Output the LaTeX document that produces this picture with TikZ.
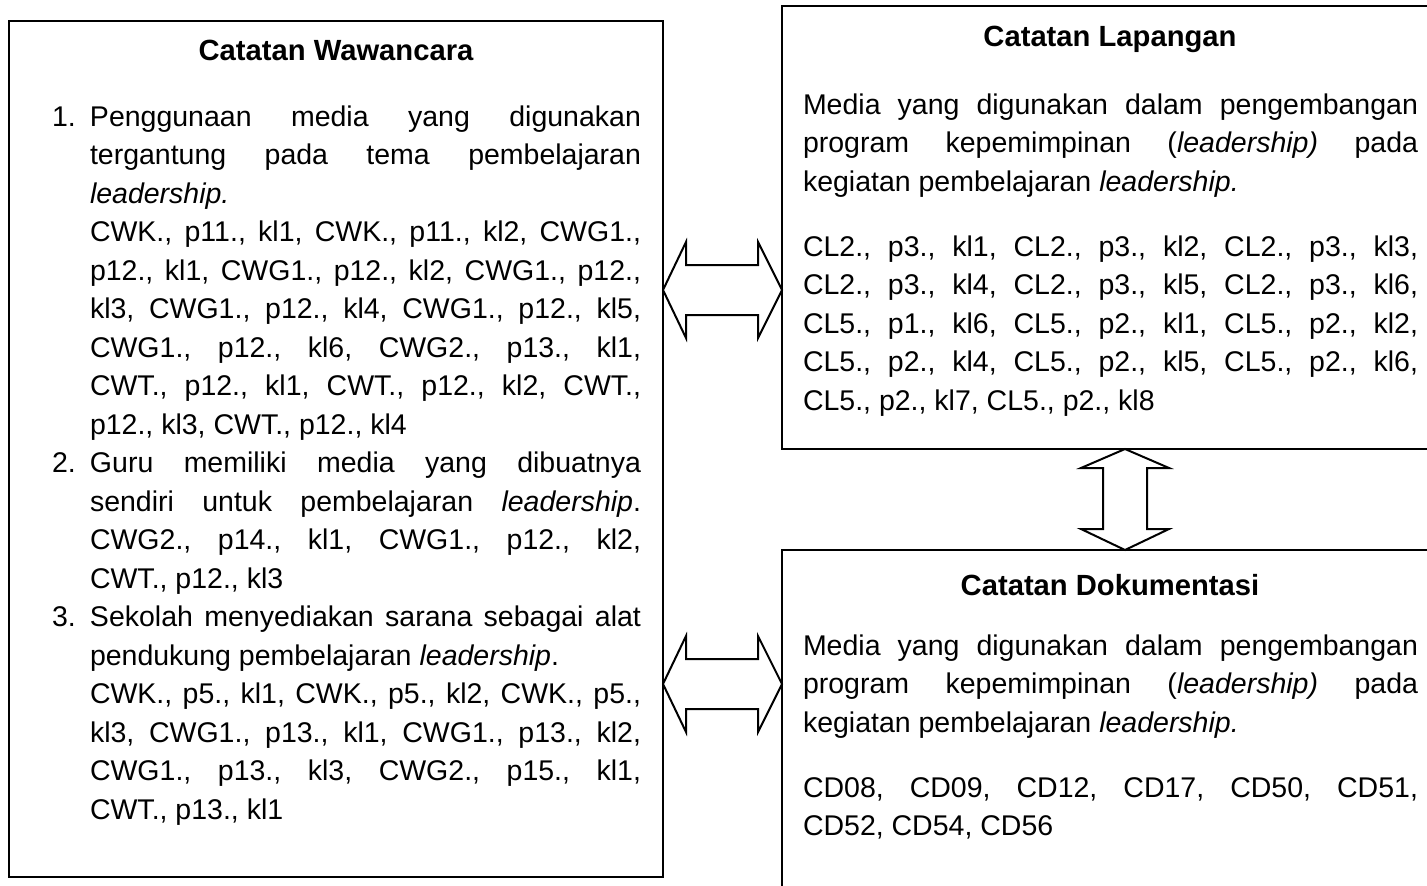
\documentclass[tikz,border=0pt]{standalone}
\usepackage{fontspec}
\setmainfont{Liberation Sans}
\usetikzlibrary{calc}

% body text setting: 28.5pt type on a 38.5pt grid, justified, no hyphenation
\newcommand\bodyfont{\fontsize{28.5pt}{38.5pt}\selectfont}
\newcommand\headfont{\fontsize{29.2pt}{38.5pt}\selectfont}
\newcommand\bodysetup{\bodyfont\parindent=0pt\parskip=0pt\sloppy\hyphenpenalty=10000\exhyphenpenalty=10000}
% numbered entry with hanging indent
\newcommand\numitem[1]{\par\noindent\hangindent=38pt\hangafter=1\makebox[38pt][l]{#1}\ignorespaces}

\tikzset{
  frame/.style={draw, line width=2.5pt, inner sep=0pt, outer sep=0pt, anchor=north west},
  barrow/.style={draw, line width=2pt, fill=white, line join=miter},
  title/.style={font=\headfont\bfseries, anchor=base, inner sep=0pt},
  body/.style={anchor=base west, inner sep=0pt, outer sep=0pt}
}

\begin{document}
\begin{tikzpicture}[x=1pt, y=-1pt]
\useasboundingbox (0,0) rectangle (1427,886);
\clip (0,0) rectangle (1427,886);
\fill[white] (0,0) rectangle (1427,886);

% the three record boxes
\node[frame, minimum width=654pt, minimum height=856pt] (wawancara) at (9,21) {};
\node[frame, minimum width=700pt, minimum height=443pt] (lapangan) at (782,6) {};
\node[frame, minimum width=700pt, minimum height=400pt] (dokumentasi) at (782,550) {};

% titles
\node[title] (t1) at (336,60) {Catatan Wawancara};
\node[title] (t2) at (1110,46) {Catatan Lapangan};
\node[title] (t3) at (1110,595) {Catatan Dokumentasi};

% interview notes
\node[body] (b1) at (52,126) {\begin{minipage}[t]{589pt}\bodysetup
\numitem{1.}Penggunaan media yang digunakan\linebreak
tergantung pada tema pembelajaran\linebreak
\textit{leadership.}\\
CWK., p11., kl1, CWK., p11., kl2, CWG1.,\linebreak
p12., kl1, CWG1., p12., kl2, CWG1., p12.,\linebreak
kl3, CWG1., p12., kl4, CWG1., p12., kl5,\linebreak
CWG1., p12., kl6, CWG2., p13., kl1,\linebreak
CWT., p12., kl1, CWT., p12., kl2, CWT.,\linebreak
p12., kl3, CWT., p12., kl4\par
\numitem{2.}Guru memiliki media yang dibuatnya\linebreak
sendiri untuk pembelajaran \textit{leadership}.\linebreak
CWG2., p14., kl1, CWG1., p12., kl2,\linebreak
CWT., p12., kl3\par
\numitem{3.}Sekolah menyediakan sarana sebagai alat\linebreak
pendukung pembelajaran \textit{leadership}.\\
CWK., p5., kl1, CWK., p5., kl2, CWK., p5.,\linebreak
kl3, CWG1., p13., kl1, CWG1., p13., kl2,\linebreak
CWG1., p13., kl3, CWG2., p15., kl1,\linebreak
CWT., p13., kl1\par
\end{minipage}};

% field notes
\node[body] (b2) at (803,114) {\begin{minipage}[t]{615pt}\bodysetup
Media yang digunakan dalam pengembangan\linebreak
program kepemimpinan (\textit{leadership)} pada\linebreak
kegiatan pembelajaran \textit{leadership.}\par\vspace{26.5pt}
CL2., p3., kl1, CL2., p3., kl2, CL2., p3., kl3,\linebreak
CL2., p3., kl4, CL2., p3., kl5, CL2., p3., kl6,\linebreak
CL5., p1., kl6, CL5., p2., kl1, CL5., p2., kl2,\linebreak
CL5., p2., kl4, CL5., p2., kl5, CL5., p2., kl6,\linebreak
CL5., p2., kl7, CL5., p2., kl8\par
\end{minipage}};

% documentation notes
\node[body] (b3) at (803,655) {\begin{minipage}[t]{615pt}\bodysetup
Media yang digunakan dalam pengembangan\linebreak
program kepemimpinan (\textit{leadership)} pada\linebreak
kegiatan pembelajaran \textit{leadership.}\par\vspace{26.5pt}
CD08, CD09, CD12, CD17, CD50, CD51,\linebreak
CD52, CD54, CD56\par
\end{minipage}};

% block double arrows between the boxes
\coordinate (h1L) at (wawancara.east |- 0,290);
\coordinate (h1R) at (lapangan.west |- 0,290);
\coordinate (h2L) at (wawancara.east |- 0,684);
\coordinate (h2R) at (dokumentasi.west |- 0,684);
\coordinate (vT) at (lapangan.south -| 1125,0);
\coordinate (vB) at (dokumentasi.north -| 1125,0);

\foreach \a/\b in {h1L/h1R, h2L/h2R}{
  \draw[barrow] (\a) -- ++(23,-48) -- ++(0,23) -- ($(\b)+(-24,-25)$) -- ++(0,-23)
    -- (\b) -- ++(-24,48) -- ++(0,-23) -- ($(\a)+(23,25)$) -- ++(0,23) -- cycle;
}
\draw[barrow] (vT) -- ++(44,19) -- ++(-22,0) -- ($(vB)+(22,-21)$) -- ++(22,0)
  -- (vB) -- ++(-44,-21) -- ++(22,0) -- ($(vT)+(-22,19)$) -- ++(-22,0) -- cycle;
\end{tikzpicture}
\end{document}
